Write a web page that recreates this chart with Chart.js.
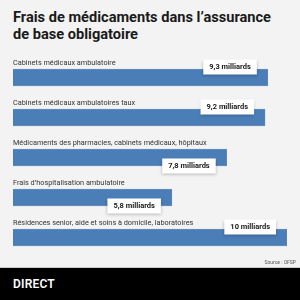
<!DOCTYPE html>
<html lang="fr">
<head>
<meta charset="utf-8">
<script src="https://cdn.jsdelivr.net/npm/chart.js@4/dist/chart.umd.min.js"></script>
<style>
    html, body { margin: 0; padding: 0; }
    body {
        width: 300px;
        height: 300px;
        background: #f3f3f3;
        position: relative;
        overflow: hidden;
        font-family: Roboto, 'Noto Sans', sans-serif;
    }
    #title {
        position: absolute;
        left: 13px;
        top: 9px;
        width: 272px;
        font-size: 14.6px;
        font-weight: bold;
        line-height: 17px;
        color: #1a1a1a;
    }
    #wrap {
        position: absolute;
        left: 0;
        top: 0;
        width: 300px;
        height: 300px;
    }
    #source {
        position: absolute;
        right: 4px;
        top: 259px;
        font-size: 5px;
        color: #555;
    }
    #footer {
        position: absolute;
        left: 0;
        top: 267px;
        width: 300px;
        height: 33px;
        background: #000;
        border-top: 1px solid #c8c8c8;
        box-sizing: border-box;
    }
    #footer span {
        position: absolute;
        left: 13px;
        top: 9px;
        color: #fff;
        font-size: 12px;
        font-weight: 600;
        letter-spacing: 0.2px;
    }
</style>
</head>
<body>
<div id="title">Frais de médicaments dans l’assurance de base obligatoire</div>
<div id="wrap"><canvas id="chart"></canvas></div>
<div id="source">Source : OFSP</div>
<div id="footer"><span>DIRECT</span></div>
<script>
// Data
const categories = [
    'Cabinets médicaux ambulatoire',
    'Cabinets médicaux ambulatoires taux',
    'Médicaments des pharmacies, cabinets médicaux, hôpitaux',
    'Frais d’hospitalisation ambulatoire',
    'Résidences senior, aide et soins à domicile, laboratoires'
];
const costs = [9.3, 9.2, 7.8, 5.8, 10];
const valueLabels = ['9,3 milliards', '9,2 milliards', '7,8 milliards', '5,8 milliards', '10 milliards'];

// where the value tag sits: straddling the top or the bottom edge of its bar
const tagEdge = ['top', 'top', 'bottom', 'bottom', 'top'];

// Draws the category name above each bar and the white value tag on it
const barLabels = {
    id: 'barLabels',
    afterDatasetsDraw(chart) {
        const ctx = chart.ctx;
        const meta = chart.getDatasetMeta(0);
        const left = chart.chartArea.left;
        ctx.save();
        meta.data.forEach((bar, i) => {
            const half = bar.height / 2;
            const top = bar.y - half;
            const bottom = bar.y + half;

            // category name
            ctx.font = '7.3px Roboto, sans-serif';
            ctx.fillStyle = '#333';
            ctx.textAlign = 'left';
            ctx.textBaseline = 'middle';
            ctx.fillText(categories[i], left, top - 6);

            // value tag
            ctx.font = 'bold 7.5px Roboto, sans-serif';
            const w = ctx.measureText(valueLabels[i]).width + 12;
            const h = 15;
            const right = bar.x - 11;
            const cy = tagEdge[i] === 'top' ? top - 2 : bottom;
            ctx.shadowColor = 'rgba(0,0,0,0.25)';
            ctx.shadowBlur = 3;
            ctx.shadowOffsetY = 1;
            ctx.fillStyle = '#fff';
            ctx.fillRect(right - w, cy - h / 2, w, h);
            ctx.shadowColor = 'transparent';
            ctx.fillStyle = '#1a1a1a';
            ctx.textAlign = 'center';
            ctx.fillText(valueLabels[i], right - w / 2, cy);
        });
        ctx.restore();
    }
};

new Chart(document.getElementById('chart'), {
    type: 'bar',
    data: {
        labels: categories,
        datasets: [{
            data: costs,
            backgroundColor: '#4b7db6',
            borderColor: '#6f97c6',
            borderWidth: 0.5,
            barThickness: 17
        }]
    },
    options: {
        indexAxis: 'y',
        responsive: true,
        maintainAspectRatio: false,
        animation: false,
        layout: {
            padding: { left: 13, right: 13, top: 57.5, bottom: 42.5 }
        },
        plugins: {
            legend: { display: false },
            tooltip: { enabled: false }
        },
        scales: {
            x: { display: false, min: 0, max: 10 },
            y: { display: false }
        }
    },
    plugins: [barLabels]
});
</script>
</body>
</html>
